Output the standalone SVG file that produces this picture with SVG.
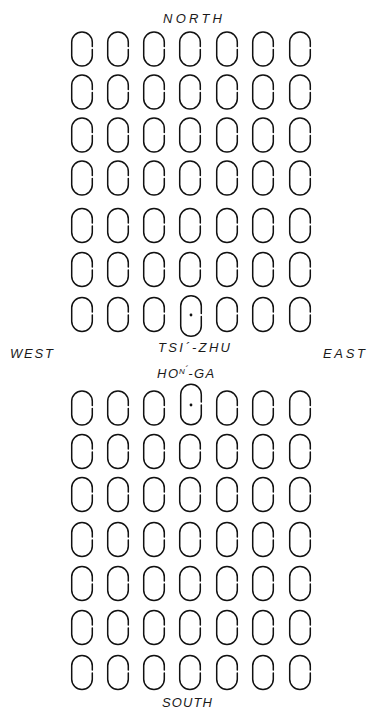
<svg xmlns="http://www.w3.org/2000/svg" xmlns:xlink="http://www.w3.org/1999/xlink" width="370" height="711" viewBox="0 0 370 711">
<style>
.o{fill:none;stroke:#111;stroke-width:1.5;stroke-linecap:round}
.t{font-family:"Liberation Sans",Arial,sans-serif;font-style:italic;font-size:13px;fill:#1a1a1a}
.dot{fill:#111}
</style>
<defs>
<path id="o" class="o" d="M10.3,-2.5 V-6.8 A10.3 10.3 0 0 0 -10.3 -6.8 V6.8 A10.3 10.3 0 0 0 10.3 6.8 V0.5"/>
<path id="ot" class="o" d="M10.3,-2.5 V-10 A10.3 10.3 0 0 0 -10.3 -10 V10 A10.3 10.3 0 0 0 10.3 10 V0.5"/>
</defs>
<rect width="370" height="711" fill="#fff"/>
<g id="labels">
<text class="t" x="163" y="23" textLength="59" lengthAdjust="spacing">NORTH</text>
<text class="t" x="10" y="358" textLength="43" lengthAdjust="spacing">WEST</text>
<text class="t" x="323" y="358" textLength="42" lengthAdjust="spacing">EAST</text>
<text class="t" x="158" y="352" textLength="72" lengthAdjust="spacing">TSI´-ZHU</text>
<text class="t" x="157" y="378">H<tspan dx="1.5">O</tspan><tspan dx="1" dy="-4" font-size="8">N</tspan><tspan dy="0" font-size="10">´</tspan><tspan dy="4">-</tspan><tspan dx="1.5">G</tspan><tspan dx="1.5">A</tspan></text>
<text class="t" x="162" y="707" textLength="50" lengthAdjust="spacing">SOUTH</text>
</g>
<g id="north-grid">
<g id="n1"><use href="#o" x="82" y="49"/><use href="#o" x="118" y="49"/><use href="#o" x="154" y="49"/><use href="#o" x="190" y="49"/><use href="#o" x="227" y="49"/><use href="#o" x="263" y="49"/><use href="#o" x="300" y="49"/></g>
<g id="n2"><use href="#o" x="82" y="92"/><use href="#o" x="118" y="92"/><use href="#o" x="154" y="92"/><use href="#o" x="190" y="92"/><use href="#o" x="227" y="92"/><use href="#o" x="263" y="92"/><use href="#o" x="300" y="92"/></g>
<g id="n3"><use href="#o" x="82" y="135"/><use href="#o" x="118" y="135"/><use href="#o" x="154" y="135"/><use href="#o" x="190" y="135"/><use href="#o" x="227" y="135"/><use href="#o" x="263" y="135"/><use href="#o" x="300" y="135"/></g>
<g id="n4"><use href="#o" x="82" y="178"/><use href="#o" x="118" y="178"/><use href="#o" x="154" y="178"/><use href="#o" x="190" y="178"/><use href="#o" x="227" y="178"/><use href="#o" x="263" y="178"/><use href="#o" x="300" y="178"/></g>
<g id="n5"><use href="#o" x="82" y="225.5"/><use href="#o" x="118" y="225.5"/><use href="#o" x="154" y="225.5"/><use href="#o" x="190" y="225.5"/><use href="#o" x="227" y="225.5"/><use href="#o" x="263" y="225.5"/><use href="#o" x="300" y="225.5"/></g>
<g id="n6"><use href="#o" x="82" y="269.5"/><use href="#o" x="118" y="269.5"/><use href="#o" x="154" y="269.5"/><use href="#o" x="190" y="269.5"/><use href="#o" x="227" y="269.5"/><use href="#o" x="263" y="269.5"/><use href="#o" x="300" y="269.5"/></g>
<g id="n7"><use href="#o" x="82" y="314.5"/><use href="#o" x="118" y="314.5"/><use href="#o" x="154" y="314.5"/><use href="#o" x="227" y="314.5"/><use href="#o" x="263" y="314.5"/><use href="#o" x="300" y="314.5"/></g>
<g id="tsi-zhu"><use href="#ot" x="191" y="316"/><circle class="dot" cx="191" cy="315" r="1.4"/></g>
</g>
<g id="south-grid">
<g id="hon-ga"><use href="#ot" x="191" y="404.5"/><circle class="dot" cx="191" cy="405" r="1.4"/></g>
<g id="s1"><use href="#o" x="82" y="408"/><use href="#o" x="118" y="408"/><use href="#o" x="154" y="408"/><use href="#o" x="227" y="408"/><use href="#o" x="263" y="408"/><use href="#o" x="300" y="408"/></g>
<g id="s2"><use href="#o" x="82" y="451.5"/><use href="#o" x="118" y="451.5"/><use href="#o" x="154" y="451.5"/><use href="#o" x="190" y="451.5"/><use href="#o" x="227" y="451.5"/><use href="#o" x="263" y="451.5"/><use href="#o" x="300" y="451.5"/></g>
<g id="s3"><use href="#o" x="82" y="494.5"/><use href="#o" x="118" y="494.5"/><use href="#o" x="154" y="494.5"/><use href="#o" x="190" y="494.5"/><use href="#o" x="227" y="494.5"/><use href="#o" x="263" y="494.5"/><use href="#o" x="300" y="494.5"/></g>
<g id="s4"><use href="#o" x="82" y="539.5"/><use href="#o" x="118" y="539.5"/><use href="#o" x="154" y="539.5"/><use href="#o" x="190" y="539.5"/><use href="#o" x="227" y="539.5"/><use href="#o" x="263" y="539.5"/><use href="#o" x="300" y="539.5"/></g>
<g id="s5"><use href="#o" x="82" y="583.5"/><use href="#o" x="118" y="583.5"/><use href="#o" x="154" y="583.5"/><use href="#o" x="190" y="583.5"/><use href="#o" x="227" y="583.5"/><use href="#o" x="263" y="583.5"/><use href="#o" x="300" y="583.5"/></g>
<g id="s6"><use href="#o" x="82" y="627.5"/><use href="#o" x="118" y="627.5"/><use href="#o" x="154" y="627.5"/><use href="#o" x="190" y="627.5"/><use href="#o" x="227" y="627.5"/><use href="#o" x="263" y="627.5"/><use href="#o" x="300" y="627.5"/></g>
<g id="s7"><use href="#o" x="82" y="672.5"/><use href="#o" x="118" y="672.5"/><use href="#o" x="154" y="672.5"/><use href="#o" x="190" y="672.5"/><use href="#o" x="227" y="672.5"/><use href="#o" x="263" y="672.5"/><use href="#o" x="300" y="672.5"/></g>
</g>
<g id="connectors"/>
</svg>
